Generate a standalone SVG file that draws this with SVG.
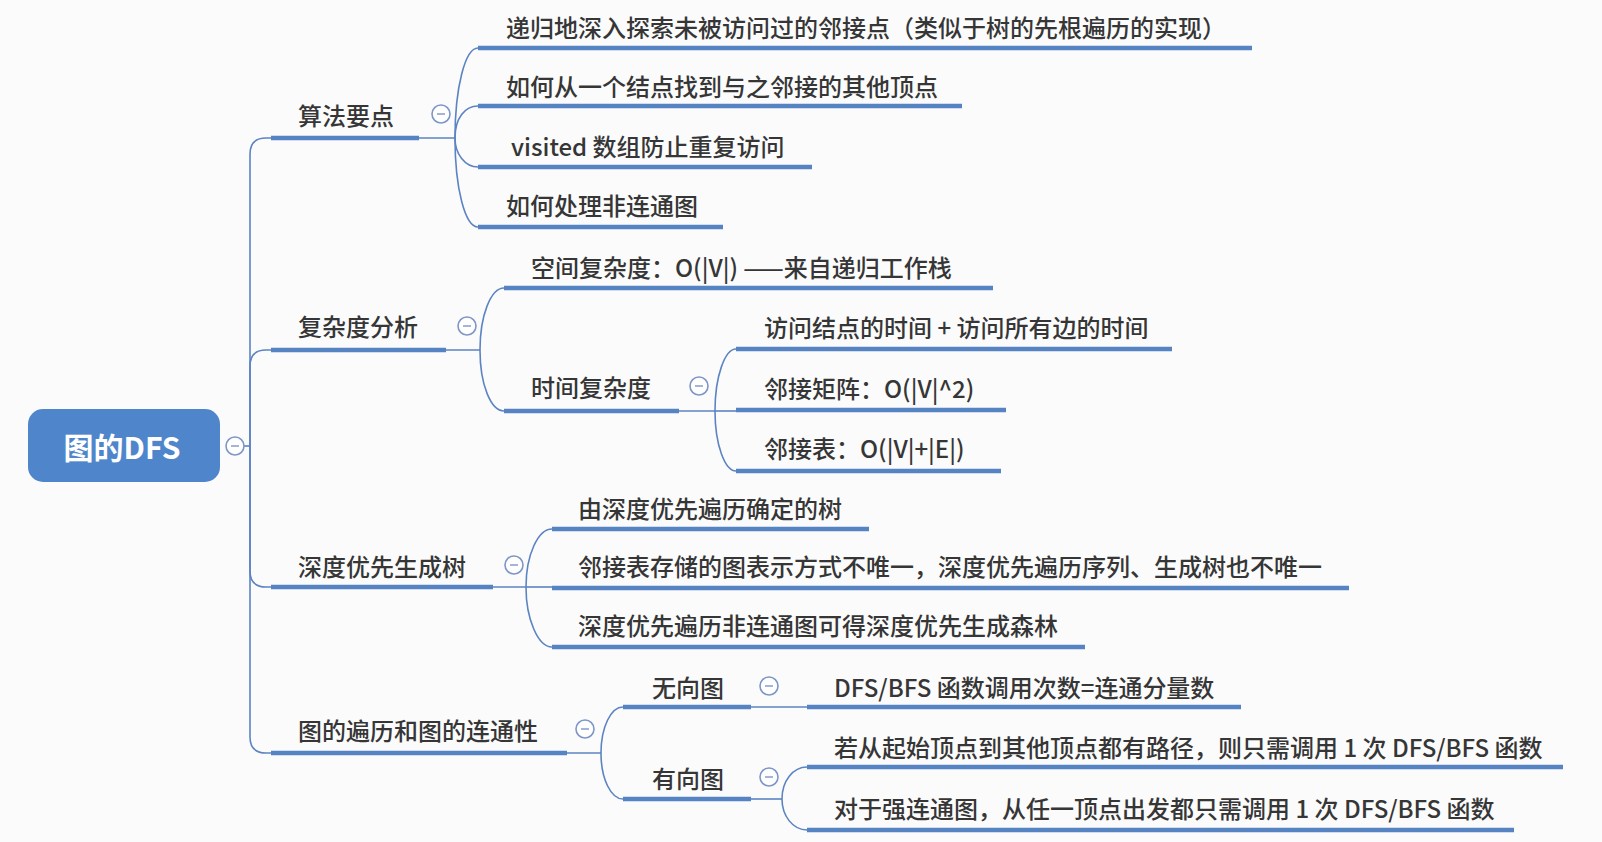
<svg xmlns="http://www.w3.org/2000/svg" width="1602" height="842" viewBox="0 0 1602 842">
<style>
.t{font-family:"Noto Sans CJK SC","Liberation Sans",sans-serif;font-size:24px;font-weight:500;fill:#363636;dominant-baseline:central}
.u{stroke:#5683c2;stroke-width:4.5;stroke-linecap:butt}
.c{fill:none;stroke:#5c84c2;stroke-width:1.6}
.btn{fill:#fff;stroke:#7d96c6;stroke-width:1.6}
.mn{stroke:#7d96c6;stroke-width:1.4}
</style>
<rect width="1602" height="842" fill="#fbfbfc"/>
<g id="connectors" class="c">
<path d="M244,446 H250"/>
<path d="M250,446 V154 Q250,138 266,138 H271"/>
<path d="M250,446 V366 Q250,350 266,350 H271"/>
<path d="M250,446 V571 Q250,587 266,587 H271"/>
<path d="M250,446 V737 Q250,753 266,753 H271"/>
<path d="M419,138 H455"/>
<path d="M455,138 C455,88 465,48 478,48"/>
<path d="M455,138 C455,118 465,106 478,106"/>
<path d="M455,138 C455,154 465,167 478,167"/>
<path d="M455,138 C455,188 465,227 478,227"/>
<path d="M446,350 H480"/>
<path d="M480,350 C480,315 491,288 504,288"/>
<path d="M480,350 C480,385 491,411 504,411"/>
<path d="M679,411 H715"/>
<path d="M715,411 C715,376 725,349 736,349"/>
<path d="M715,411 H736"/>
<path d="M715,411 C715,445 725,471 736,471"/>
<path d="M493,587 H526"/>
<path d="M526,587 C526,555 538,529 552,529"/>
<path d="M526,587 H552"/>
<path d="M526,587 C526,619 538,647 552,647"/>
<path d="M567,753 H601"/>
<path d="M601,753 C601,727 611,707 623,707"/>
<path d="M601,753 C601,779 611,799 623,799"/>
<path d="M751,707 H807"/>
<path d="M751,799 H782"/>
<path d="M782,799 C782,781 793,767 807,767"/>
<path d="M782,799 C782,816 793,830 807,830"/>
</g>
<g id="root">
<rect x="28" y="409" width="192" height="73" rx="15" fill="#4f86cb"/>
<text x="122" y="446" text-anchor="middle" style="font-family:'Noto Sans CJK SC','Liberation Sans',sans-serif;font-size:30px;font-weight:bold;fill:#fff;dominant-baseline:central">图的DFS</text>
<circle class="btn" cx="235" cy="446" r="9"/><line class="mn" x1="231" y1="446" x2="239" y2="446"/>
</g>
<g id="n-suanfa">
<line class="u" x1="271" y1="138" x2="419" y2="138"/>
<text class="t" x="298" y="114">算法要点</text>
<circle class="btn" cx="441" cy="114" r="9"/><line class="mn" x1="437" y1="114" x2="445" y2="114"/>
</g>
<g id="n-s1"><line class="u" x1="478" y1="48" x2="1252" y2="48"/><text class="t" x="506" y="26">递归地深入探索未被访问过的邻接点（类似于树的先根遍历的实现）</text></g>
<g id="n-s2"><line class="u" x1="478" y1="106" x2="962" y2="106"/><text class="t" x="506" y="85">如何从一个结点找到与之邻接的其他顶点</text></g>
<g id="n-s3"><line class="u" x1="478" y1="167" x2="812" y2="167"/><text class="t" x="511" y="145">visited 数组防止重复访问</text></g>
<g id="n-s4"><line class="u" x1="478" y1="227" x2="723" y2="227"/><text class="t" x="506" y="204">如何处理非连通图</text></g>
<g id="n-fuza">
<line class="u" x1="271" y1="350" x2="446" y2="350"/>
<text class="t" x="298" y="325">复杂度分析</text>
<circle class="btn" cx="467" cy="326" r="9"/><line class="mn" x1="463" y1="326" x2="471" y2="326"/>
</g>
<g id="n-kongjian"><line class="u" x1="504" y1="288" x2="993" y2="288"/><text class="t" x="531" y="266">空间复杂度：O(|V|) ——来自递归工作栈</text></g>
<g id="n-shijian">
<line class="u" x1="504" y1="411" x2="679" y2="411"/>
<text class="t" x="531" y="386">时间复杂度</text>
<circle class="btn" cx="699" cy="386" r="9"/><line class="mn" x1="695" y1="386" x2="703" y2="386"/>
</g>
<g id="n-t1"><line class="u" x1="736" y1="349" x2="1172" y2="349"/><text class="t" x="764" y="326">访问结点的时间 + 访问所有边的时间</text></g>
<g id="n-t2"><line class="u" x1="736" y1="410" x2="1006" y2="410"/><text class="t" x="764" y="387">邻接矩阵：O(|V|^2)</text></g>
<g id="n-t3"><line class="u" x1="736" y1="471" x2="1001" y2="471"/><text class="t" x="764" y="447">邻接表：O(|V|+|E|)</text></g>
<g id="n-shendu">
<line class="u" x1="271" y1="587" x2="493" y2="587"/>
<text class="t" x="298" y="565">深度优先生成树</text>
<circle class="btn" cx="514" cy="565" r="9"/><line class="mn" x1="510" y1="565" x2="518" y2="565"/>
</g>
<g id="n-d1"><line class="u" x1="552" y1="529" x2="869" y2="529"/><text class="t" x="578" y="507">由深度优先遍历确定的树</text></g>
<g id="n-d2"><line class="u" x1="552" y1="588" x2="1349" y2="588"/><text class="t" x="578" y="565">邻接表存储的图表示方式不唯一，深度优先遍历序列、生成树也不唯一</text></g>
<g id="n-d3"><line class="u" x1="552" y1="647" x2="1085" y2="647"/><text class="t" x="578" y="624">深度优先遍历非连通图可得深度优先生成森林</text></g>
<g id="n-liantong">
<line class="u" x1="271" y1="753" x2="567" y2="753"/>
<text class="t" x="298" y="729">图的遍历和图的连通性</text>
<circle class="btn" cx="585" cy="729" r="9"/><line class="mn" x1="581" y1="729" x2="589" y2="729"/>
</g>
<g id="n-wuxiang">
<line class="u" x1="623" y1="707" x2="751" y2="707"/>
<text class="t" x="652" y="686">无向图</text>
<circle class="btn" cx="769" cy="686" r="9"/><line class="mn" x1="765" y1="686" x2="773" y2="686"/>
</g>
<g id="n-w1"><line class="u" x1="807" y1="707" x2="1241" y2="707"/><text class="t" x="834" y="686">DFS/BFS 函数调用次数=连通分量数</text></g>
<g id="n-youxiang">
<line class="u" x1="623" y1="799" x2="751" y2="799"/>
<text class="t" x="652" y="777">有向图</text>
<circle class="btn" cx="769" cy="777" r="9"/><line class="mn" x1="765" y1="777" x2="773" y2="777"/>
</g>
<g id="n-y1"><line class="u" x1="807" y1="767" x2="1563" y2="767"/><text class="t" x="834" y="746">若从起始顶点到其他顶点都有路径，则只需调用 1 次 DFS/BFS 函数</text></g>
<g id="n-y2"><line class="u" x1="807" y1="830" x2="1514" y2="830"/><text class="t" x="834" y="807">对于强连通图，从任一顶点出发都只需调用 1 次 DFS/BFS 函数</text></g>
</svg>
